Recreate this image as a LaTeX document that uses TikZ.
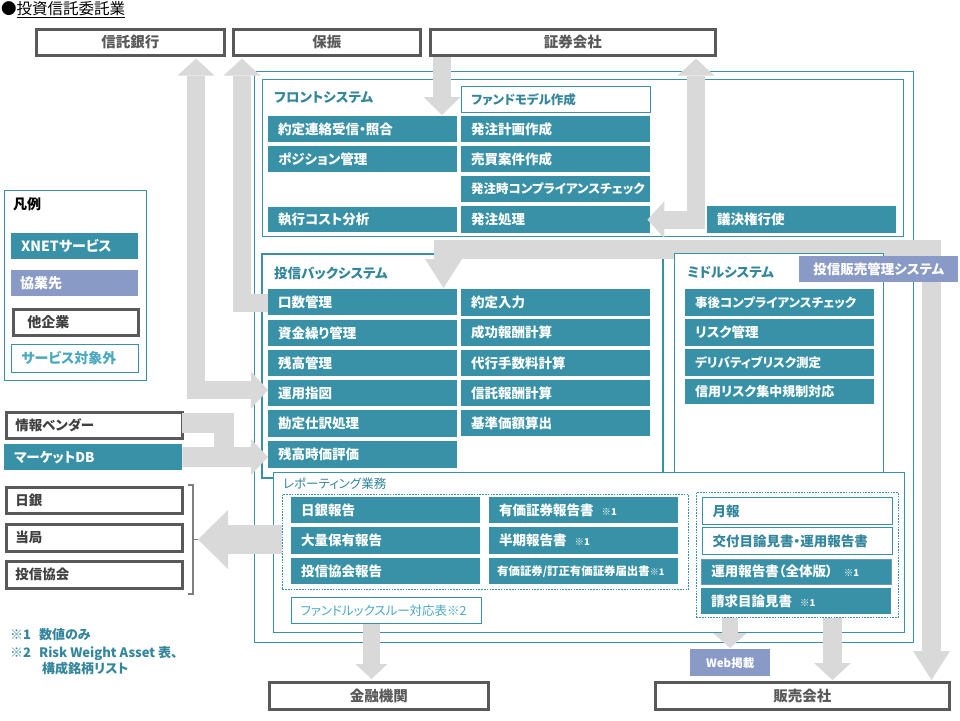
\documentclass[tikz,border=0pt]{standalone}
\usepackage{fontspec}
\setmainfont{Noto Sans CJK JP}[RawFeature=+palt]
\usetikzlibrary{arrows.meta}
\definecolor{xteal}{HTML}{3891A6}
\definecolor{tealtxt}{HTML}{33869C}
\definecolor{ltteal}{HTML}{4AA8C0}
\definecolor{purp}{HTML}{8A9AC6}
\definecolor{garr}{HTML}{D9D9D9}
\definecolor{dgray}{HTML}{595959}
\definecolor{txtgray}{HTML}{404040}
\definecolor{brkgray}{HTML}{7F7F7F}
\newcommand\fsz[1]{\fontsize{#1}{#1}\selectfont}
\tikzset{
  box/.style={anchor=north west, inner xsep=10pt, inner ysep=0pt, align=left,
              minimum height=26pt, text width=169pt, font=\bfseries\fsz{13.5}},
  tbox/.style={box, fill=xteal, text=white},
  obox/.style={box, draw=xteal, line width=1pt, fill=white, text=tealtxt},
  pbox/.style={box, fill=purp, text=white},
  cobox/.style={anchor=north west, draw=dgray, line width=2.6pt, fill=white, text=dgray,
                font=\bfseries\fsz{14.5}, inner sep=0pt, align=center, minimum height=26pt},
  lbox/.style={box, draw=dgray, line width=2.6pt, fill=white, text=txtgray, font=\bfseries\fsz{13.5}},
  kana/.style={font=\bfseries\fsz{12.5}},
  lg/.style={font=\bfseries\fsz{14}},
  fr/.style={anchor=north west, draw=xteal, line width=1pt, inner sep=0pt},
  grp/.style={anchor=north west, draw=xteal, line width=0.8pt, dash pattern=on 1.6pt off 1.2pt, inner sep=0pt},
  ttl/.style={anchor=west, text=tealtxt, font=\bfseries\fsz{13.5}, inner sep=0pt},
  note/.style={anchor=west, inner sep=0pt, text=tealtxt, font=\bfseries\fsz{13}},
  ga/.style n args={3}{draw=garr, line width=#1pt, line join=miter,
        arrows={-Triangle[width=#2pt,length=#3pt,line width=0pt]}},
  gaa/.style n args={3}{draw=garr, line width=#1pt, line join=miter,
        arrows={Triangle[width=#2pt,length=#3pt,line width=0pt]-Triangle[width=#2pt,length=#3pt,line width=0pt]}},
  gl/.style={draw=garr, line width=#1pt, line join=miter},
}
\begin{document}
\begin{tikzpicture}[x=1pt,y=-1pt]
\useasboundingbox[fill=white] (0,0) rectangle (960,720);

% title
\node[anchor=west, inner sep=0pt, font=\fsz{15.5}] (title) at (1,10) {●\underline{投資信託委託業}};

% column coordinates for block arrows
\coordinate (a1x) at (196,0);
\coordinate (a2x) at (242,0);
\coordinate (a3x) at (442,0);
\coordinate (a4x) at (696,0);
\coordinate (a5x) at (443.5,0);
\coordinate (a5r) at (931.5,0);
\coordinate (band) at (0,249);
\coordinate (a6x) at (224,0);
\coordinate (a8x) at (371.5,0);
\coordinate (a9x) at (730,0);
\coordinate (a10x) at (832.5,0);
\coordinate (brk) at (198,539.5);

% frames
\node[fr, minimum width=659pt, minimum height=571pt] (outer) at (254,71) {};
\node[fr, minimum width=641pt, minimum height=157pt] (front) at (262,79) {};
\node[fr, line width=2pt, minimum width=401pt, minimum height=224pt] (back) at (261,253) {};

% top companies
\node[cobox, minimum width=188pt] (shintaku) at (35,28) {信託銀行};
\node[cobox, minimum width=187pt] (hofuri) at (232,28) {保振};
\node[cobox, minimum width=285pt] (shoken) at (429,28) {証券会社};

% legend
\node[fr, minimum width=142pt, minimum height=190pt] (legend) at (4,190) {};
\node[anchor=west, inner sep=0pt, font=\bfseries\fsz{14}] (hanrei) at (13,204) {凡例};
\node[tbox, lg, text width=107pt] (lgx) at (11,233) {XNETサービス};
\node[pbox, lg, text width=109pt, inner xsep=9pt] (lgp) at (11,270) {協業先};
\node[lbox, lg, text width=97pt, inner xsep=14pt, minimum height=26pt] (lgo) at (12,308) {他企業};
\node[obox, lg, text width=107pt, text=ltteal, minimum height=28pt] (lgs) at (11,344) {サービス対象外};

% left boxes
\node[lbox, text width=158pt, inner xsep=9pt] (vendor) at (5,411) {情報ベンダー};
\node[tbox, text width=158pt, inner xsep=10pt] (mdb) at (4,444) {マーケットDB};
\node[lbox, text width=158pt, inner xsep=9pt] (nichigin) at (5,486) {日銀};
\node[lbox, text width=158pt, inner xsep=9pt, minimum height=27pt] (tokyoku) at (5,523) {当局};
\node[lbox, text width=158pt, inner xsep=9pt, minimum height=27pt] (kyokai) at (5,560) {投信協会};

% bracket
\draw[brkgray, line width=1.5pt] (188,485) -- (193,485) -- (193,594) -- (188,594);
\draw[brkgray, line width=1.5pt] (193,539.5) -- (brk);

% front boxes
\node[ttl] (fronttitle) at (274,98) {フロントシステム};
\node[tbox] (yakujo) at (268,116) {約定連絡受信・照合};
\node[tbox] (position) at (268,146) {ポジション管理};
\node[tbox, minimum height=25pt] (shikko) at (268,207) {執行コスト分析};
\node[obox, kana] (fundmodel) at (461,86) {ファンドモデル作成};
\node[tbox] (hkeikaku) at (461,116) {発注計画作成};
\node[tbox] (baibai) at (461,146) {売買案件作成};
\node[tbox, kana] (hcomp) at (461,176) {発注時コンプライアンスチェック};
\node[tbox, minimum height=27pt] (hacchu) at (461,206) {発注処理};
\node[tbox, minimum height=27pt] (giketsu) at (707,206) {議決権行使};

% block arrows (upper part)
\draw[gaa={18}{37}{17}, shorten <=2pt] (shintaku.south -| a1x) -- (a1x |- 0,390) -- (268,390);
\draw[ga={18}{37}{17}, shorten >=2pt] (268,302.5) -- (a2x |- 0,302.5) -- (hofuri.south -| a2x);
\draw[ga={18}{37}{18}, shorten >=1pt] (shoken.south -| a3x) -- (yakujo.north -| a3x);
\draw[gaa={18}{37}{17}, shorten <=2pt, shorten >=-3pt] (shoken.south -| a4x) -- (a4x |- hacchu.east) -- (hacchu.east);
\draw[gl=20] (182,423) -- (a6x |- 0,423) -- (a6x |- 0,457);
\draw[ga={20}{36}{17}] (mdb.east) -- (268,457);

% back boxes
\node[ttl] (backtitle) at (274,273) {投信バックシステム};
\node[tbox] (kosu) at (268,289) {口数管理};
\node[tbox] (shikin) at (268,320) {資金繰り管理};
\node[tbox] (zandaka) at (268,350) {残高管理};
\node[tbox] (unyo) at (268,380) {運用指図};
\node[tbox, minimum height=27pt] (kanjo) at (268,410) {勘定仕訳処理};
\node[tbox, minimum height=27pt] (jika) at (268,441) {残高時価評価};
\node[tbox, minimum height=27pt] (yakunyu) at (461,289) {約定入力};
\node[tbox, minimum height=27pt] (seiko) at (461,319) {成功報酬計算};
\node[tbox] (daiko) at (461,350) {代行手数料計算};
\node[tbox] (shintakuhoshu) at (461,380) {信託報酬計算};
\node[tbox] (kijun) at (461,410) {基準価額算出};

% sales management band
\draw[gaa={19}{37}{29}, shorten <=1pt, shorten >=1pt] (kosu.north -| a5x) -- (a5x |- band) -- (a5r |- band) -- (a5r |- 0,681);

% middle system
\node[fr, fill=white, minimum width=209pt, minimum height=223pt] (middle) at (674,253) {};
\node[ttl] (midtitle) at (687,273) {ミドルシステム};
\node[tbox, kana, minimum height=27pt] (jigo) at (685,289) {事後コンプライアンスチェック};
\node[tbox, minimum height=27pt] (risk) at (685,319) {リスク管理};
\node[tbox, kana, minimum height=27pt] (deriv) at (685,349) {デリバティブリスク測定};
\node[tbox, font=\bfseries\fsz{13}, minimum height=25pt] (shinyo) at (685,379) {信用リスク集中規制対応};
\node[pbox, align=center, text width=159pt, inner xsep=0pt, font=\bfseries\fsz{13.5}] (hanbaikanri) at (799,256) {投信販売管理システム};

% reporting
\node[fr, fill=white, minimum width=631pt, minimum height=160pt] (report) at (273,472) {};
\node[anchor=west, inner sep=0pt, text=tealtxt, font=\fsz{12.5}] (reptitle) at (283,484) {レポーティング業務};
\node[grp, minimum width=406pt, minimum height=95pt] (grpL) at (282,494) {};
\node[grp, minimum width=202pt, minimum height=125pt] (grpR) at (696,492) {};
\node[tbox] (nichiginr) at (291,497) {日銀報告};
\node[tbox, minimum height=27pt] (tairyo) at (291,527) {大量保有報告};
\node[tbox] (kyokair) at (291,558) {投信協会報告};
\node[tbox] (yuka) at (489,497) {有価証券報告書\hspace{8pt}{\fsz{9.5}※1}};
\node[tbox, minimum height=27pt] (hanki) at (489,527) {半期報告書\hspace{8pt}{\fsz{9.5}※1}};
\node[tbox, inner xsep=8pt, text width=173pt, font=\bfseries\fsz{11.4}] (todoke) at (489,558) {有価証券/訂正有価証券届出書{\fsz{9}※1}};
\node[obox, text width=170pt, minimum height=27pt] (geppo) at (702,497) {月報};
\node[obox, text width=170pt, minimum height=27pt] (kofu) at (702,527) {交付目論見書・運用報告書};
\node[tbox, text width=170pt, minimum height=25pt, draw=purp!70!xteal, line width=0.6pt] (unyohokoku) at (701,559) {運用報告書（全体版）\hspace{11pt}{\fsz{9.5}※1}};
\node[tbox, text width=170pt, minimum height=26pt] (seikyu) at (701,588) {請求目論見書\hspace{8pt}{\fsz{9.5}※1}};
\node[obox, text=ltteal, font=\fsz{12.5}, inner xsep=9pt, text width=172pt] (fundlook) at (291,597) {ファンドルックスルー対応表※2};

% bottom boxes
\node[cobox, minimum width=219pt, minimum height=27pt] (kinyu) at (268,681) {金融機関};
\node[cobox, minimum width=294pt, minimum height=27pt] (hanbai) at (654,681) {販売会社};
\node[pbox, align=center, text width=80pt, inner xsep=0pt, minimum height=27pt, font=\bfseries\fsz{11.5}] (web) at (690,649) {Web掲載};

% lower block arrows
\draw[ga={29}{59}{30}] (grpL.west |- 0,539.5) -- (brk);
\draw[ga={17}{32}{15}, shorten >=2pt] (fundlook.south -| a8x) -- (kinyu.north -| a8x);
\draw[ga={16}{34}{15}, shorten >=1pt] (grpR.south -| a9x) -- (web.north -| a9x);
\draw[ga={19}{37}{17}, shorten >=1pt] (grpR.south -| a10x) -- (hanbai.north -| a10x);

% notes
\node[note] (note1) at (10,635) {※1\hspace{8pt}数値のみ};
\node[note] (note2) at (10,653) {※2\hspace{8pt}Risk Weight Asset 表、};
\node[note] (note3) at (42,669) {構成銘柄リスト};
\end{tikzpicture}
\end{document}
